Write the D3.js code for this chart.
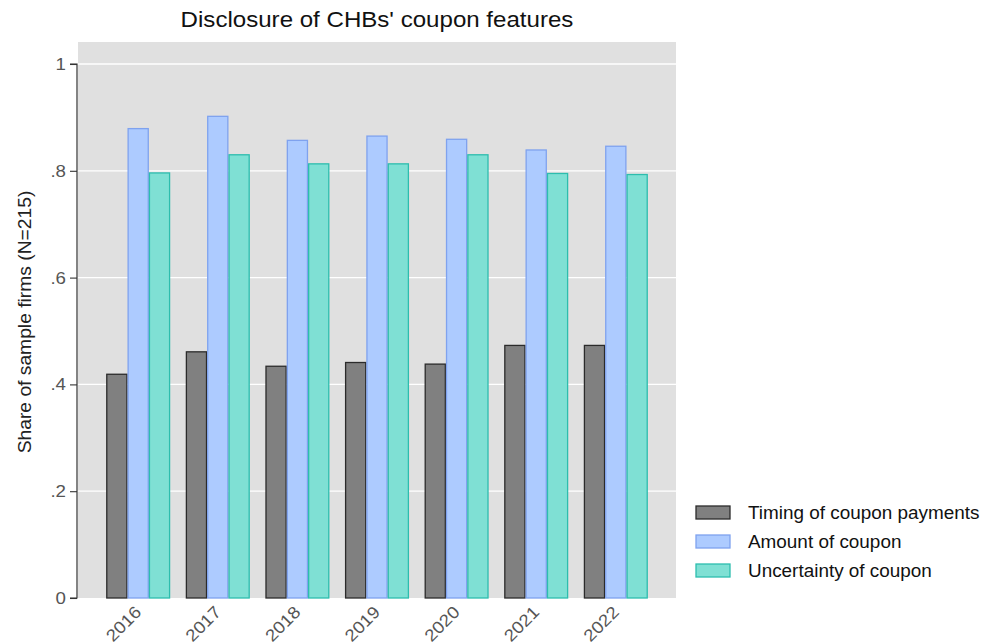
<!DOCTYPE html>
<html>
<head>
<meta charset="utf-8">
<script src="https://cdn.jsdelivr.net/npm/d3@7"></script>
<style>
  html, body { margin: 0; padding: 0; background: #ffffff; }
  svg { display: block; font-family: "Liberation Sans", Arial, sans-serif; }
</style>
</head>
<body>
<svg id="chart" width="983" height="644"></svg>
<script>
const years = ["2016", "2017", "2018", "2019", "2020", "2021", "2022"];
const seriesNames = ["Timing of coupon payments", "Amount of coupon", "Uncertainty of coupon"];
const timing = [0.419, 0.461, 0.434, 0.441, 0.438, 0.473, 0.473];
const amount = [0.879, 0.902, 0.857, 0.865, 0.859, 0.839, 0.846];
const uncertainty = [0.796, 0.830, 0.813, 0.813, 0.830, 0.795, 0.793];
const yTicks = [0, 0.2, 0.4, 0.6, 0.8, 1];
const yTickLabels = ["0", ".2", ".4", ".6", ".8", "1"];

const fills = ["#808080", "#adcbff", "#7fe0d4"];
const strokes = ["#2b2b2b", "#7fa2ee", "#2dbdae"];

const svg = d3.select("#chart");
const plot = { left: 78, right: 676, top: 42, bottom: 598 };

// stretch text horizontally a little to match the wider reference face
function widen(sel, k) {
  sel.each(function () {
    const w = this.getComputedTextLength();
    d3.select(this).attr("textLength", w * k).attr("lengthAdjust", "spacingAndGlyphs");
  });
}

const y = d3.scaleLinear().domain([0, 1]).range([598, 64]);
const x0 = d3.scaleBand().domain(years).range([plot.left, plot.right])
  .paddingInner(0.196).paddingOuter(0.354);
const x1 = d3.scaleBand().domain(seriesNames).range([0, x0.bandwidth()]).padding(0);

// background
svg.append("rect")
  .attr("x", plot.left).attr("y", plot.top)
  .attr("width", plot.right - plot.left).attr("height", plot.bottom - plot.top)
  .attr("fill", "#e0e0e0");

// gridlines
svg.append("g").selectAll("line").data(yTicks.filter(d => d > 0)).join("line")
  .attr("x1", plot.left).attr("x2", plot.right)
  .attr("y1", d => y(d)).attr("y2", d => y(d))
  .attr("stroke", "#ffffff").attr("stroke-width", 1.3);

// bars
const data = years.map((yr, i) => ({ year: yr, vals: [timing[i], amount[i], uncertainty[i]] }));
const groups = svg.append("g").selectAll("g").data(data).join("g")
  .attr("transform", d => `translate(${x0(d.year)},0)`);
groups.selectAll("rect").data(d => d.vals.map((v, j) => ({ v, j }))).join("rect")
  .attr("x", d => x1(seriesNames[d.j]) + 0.6)
  .attr("width", x1.bandwidth() - 1.2)
  .attr("y", d => y(d.v))
  .attr("height", d => y(0) - y(d.v))
  .attr("fill", d => fills[d.j])
  .attr("stroke", d => strokes[d.j])
  .attr("stroke-width", 1.3);

// y axis
const yAxis = d3.axisLeft(y).tickValues(yTicks).tickFormat((d, i) => yTickLabels[i]).tickSize(7).tickPadding(4);
const yg = svg.append("g").attr("transform", `translate(${plot.left - 1},0)`).call(yAxis);
yg.select(".domain").attr("stroke", "#333").attr("stroke-width", 1.2).attr("d", `M-7,${y(1)}H0V${y(0)}H-7`);
yg.selectAll(".tick line").attr("stroke", "#333").attr("stroke-width", 1.1);
yg.selectAll(".tick text").attr("fill", "#555").attr("font-size", 17).call(widen, 1.1);

// x axis labels
const xg = svg.append("g").attr("transform", `translate(0,${plot.bottom})`);
xg.selectAll("text").data(years).join("text")
  .attr("transform", d => `translate(${x0(d) + x0.bandwidth() / 2 + 0},${11}) rotate(-45)`)
  .attr("text-anchor", "end")
  .attr("dy", "0.35em")
  .attr("font-size", 17)
  .attr("fill", "#555")
  .text(d => d)
  .call(widen, 1.1);

// title
svg.append("text")
  .attr("x", (plot.left + plot.right) / 2).attr("y", 27)
  .attr("text-anchor", "middle")
  .attr("font-size", 21.5)
  .attr("fill", "#111")
  .text("Disclosure of CHBs' coupon features")
  .call(widen, 1.12);

// y title
svg.append("text")
  .attr("transform", `translate(31,${322}) rotate(-90)`)
  .attr("text-anchor", "middle")
  .attr("font-size", 17.5)
  .attr("fill", "#222")
  .text("Share of sample firms (N=215)")
  .call(widen, 1.1);

// legend
const legend = svg.append("g").attr("transform", "translate(696,506)");
const items = legend.selectAll("g").data(seriesNames).join("g")
  .attr("transform", (d, i) => `translate(0,${i * 29})`);
items.append("rect")
  .attr("x", 0).attr("y", 0).attr("width", 34).attr("height", 13)
  .attr("fill", (d, i) => fills[i]).attr("stroke", (d, i) => strokes[i]).attr("stroke-width", 1.3);
items.append("text")
  .attr("x", 52).attr("y", 7).attr("dy", "0.35em")
  .attr("font-size", 17.5).attr("fill", "#111")
  .text(d => d)
  .call(widen, 1.08);
</script>
</body>
</html>
